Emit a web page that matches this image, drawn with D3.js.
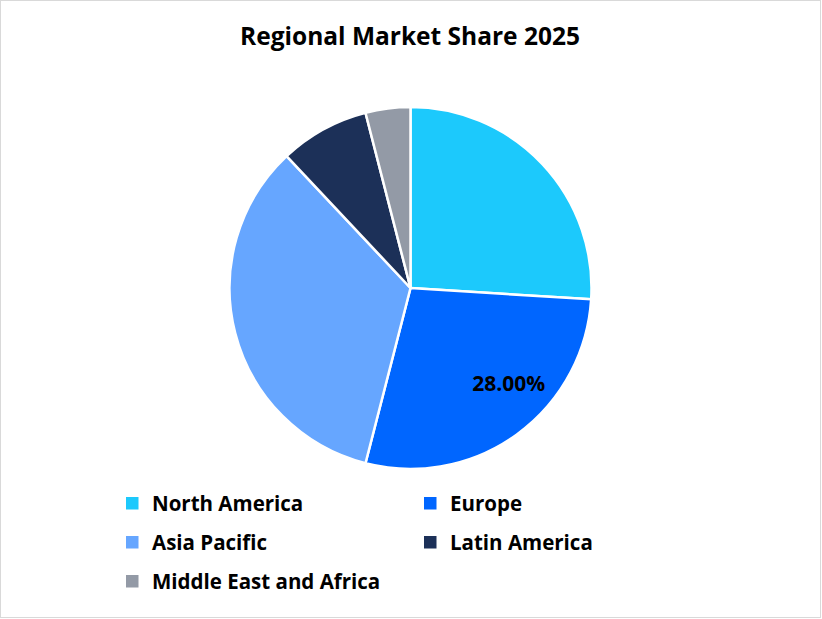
<!DOCTYPE html>
<html><head><meta charset="utf-8">
<script src="https://cdn.jsdelivr.net/npm/d3@7"></script>
<style>body{margin:0;background:#fff}svg{display:block}</style>
</head><body>
<svg id="c" width="822" height="619"></svg>
<script>
const categories = ["North America","Europe","Asia Pacific","Latin America","Middle East and Africa"];
const values = [26, 28, 34, 8, 4];
const colors = ["#1CC9FC","#0066FF","#66A6FF","#1C3058","#939AA6"];
const labeled = ["Europe"];
const title = "Regional Market Share 2025";

const svg = d3.select("#c");
const W = 822, H = 619;
const font = "'Open Sans', sans-serif";
svg.append("rect").attr("x",0.5).attr("y",0.5).attr("width",W-2).attr("height",H-2)
  .attr("fill","#fff").attr("stroke","#d9d9d9");

svg.append("text").attr("x",410).attr("y",45).attr("text-anchor","middle")
  .attr("font-family",font).attr("font-weight",700).attr("font-size",24.5).attr("fill","#000")
  .text(title);

const cx = 410.5, cy = 288, R = 181;
const g = svg.append("g").attr("transform",`translate(${cx},${cy})`);
const pie = d3.pie().sort(null).value(d=>d.v);
const data = categories.map((c,i)=>({c, v:values[i], col:colors[i]}));
const arcs = pie(data);
const arc = d3.arc().innerRadius(0).outerRadius(R);
g.selectAll("path").data(arcs).join("path").attr("d",arc)
  .attr("fill",d=>d.data.col).attr("stroke","#fff").attr("stroke-width",2.5).attr("stroke-linejoin","round");

const total = d3.sum(values);
arcs.filter(d=>labeled.includes(d.data.c)).forEach(d=>{
  const a = (d.startAngle+d.endAngle)/2 - 0.17;
  const r = 137;
  g.append("text").attr("x",r*Math.sin(a)).attr("y",-r*Math.cos(a)).attr("dy","0.36em")
    .attr("text-anchor","middle").attr("font-family",font).attr("font-weight",700)
    .attr("font-size",21).attr("fill","#000")
    .text((d.data.v/total*100).toFixed(2)+"%");
});

const leg = svg.append("g");
const colX = [126, 424], rowY = [504, 543, 582];
data.forEach((d,i)=>{
  const x = colX[i%2], y = rowY[Math.floor(i/2)];
  leg.append("rect").attr("x",x).attr("y",y-7).attr("width",12.5).attr("height",12.5).attr("fill",d.col);
  leg.append("text").attr("x",x+26).attr("y",y).attr("dy","0.36em")
    .attr("font-family",font).attr("font-weight",700).attr("font-size",20.5).attr("fill","#000").text(d.c);
});
</script>
</body></html>
